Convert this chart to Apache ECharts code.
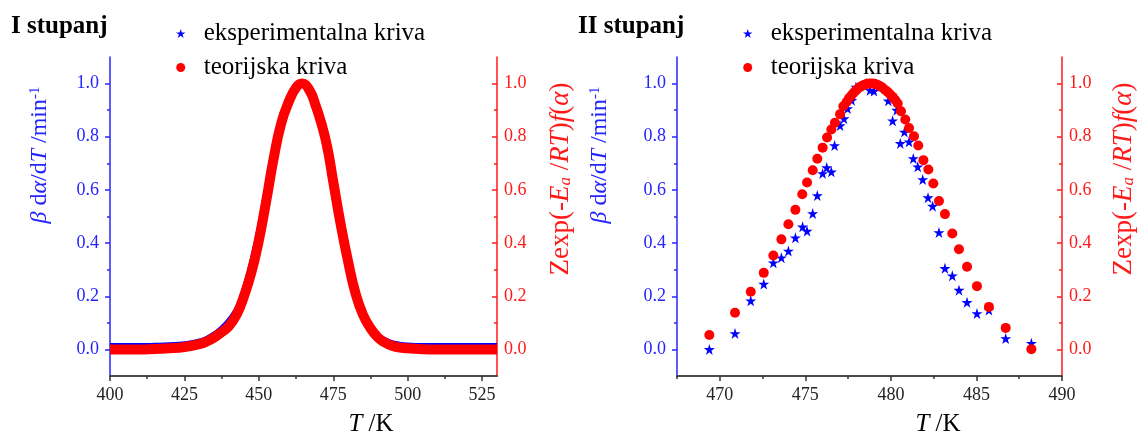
<!DOCTYPE html>
<html>
<head>
<meta charset="utf-8">
<script src="https://cdn.jsdelivr.net/npm/echarts@6/dist/echarts.min.js"></script>
<style>
html,body{margin:0;padding:0;background:#fff;}
#chart{width:1137px;height:436px;}
</style>
</head>
<body>
<div id="chart"></div>
<script>
// ---------- DATA ----------
// Panel I (stage I)
const t1Exp = [400,410,415,420,425,430,432.5,435,437.5,440,442.5,445,447.5,450,452.5,455,457.5,460,462,463.5,466,468,470,472,474,476,478.5,481,483.5,486,488.5,491,493.5,496,500,505,530];
const v1Exp = [0.02,0.02,0.021,0.023,0.027,0.037,0.048,0.065,0.088,0.12,0.165,0.245,0.35,0.48,0.63,0.78,0.885,0.955,0.99,1.0,0.99,0.95,0.9,0.82,0.72,0.6,0.44,0.31,0.2,0.125,0.08,0.052,0.037,0.028,0.022,0.02,0.02];
const t1Theo = [400,410,415,420,425,430,432.5,435,437.5,440,442.5,445,447.5,450,452.5,455,457.5,460,462.5,464.5,467,469,471,473,475,477.5,480,482.5,485,487.5,490,492.5,495,497.5,500,505,510,530];
const v1Theo = [0,0,0.002,0.004,0.009,0.02,0.03,0.045,0.065,0.088,0.13,0.2,0.29,0.41,0.56,0.72,0.85,0.93,0.985,1.0,0.975,0.92,0.85,0.76,0.63,0.47,0.33,0.21,0.13,0.08,0.045,0.025,0.013,0.007,0.004,0.001,0,0];

// Panel II (stage II)
const t2Exp = [469.39,470.89,471.81,472.57,473.13,473.6,474.01,474.42,474.84,475.1,475.43,475.7,476.01,476.25,476.52,476.71,477.03,477.26,477.47,477.71,477.96,478.2,478.59,478.78,479.01,479.46,479.85,480.1,480.34,480.55,480.79,481.06,481.31,481.57,481.86,482.17,482.44,482.81,483.16,483.59,483.98,484.45,485.03,485.73,486.71,488.21];
const v2Exp = [0,0.06,0.183,0.246,0.326,0.345,0.37,0.42,0.461,0.445,0.511,0.579,0.662,0.684,0.668,0.767,0.842,0.868,0.906,0.937,0.987,0.99,1.0,0.975,0.972,0.99,0.935,0.86,0.9,0.775,0.818,0.781,0.718,0.687,0.639,0.571,0.539,0.44,0.305,0.277,0.223,0.177,0.135,0.148,0.041,0.023];
const t2Theo = [469.39,470.89,471.81,472.57,473.13,473.6,474.01,474.42,474.82,475.1,475.43,475.7,476.01,476.27,476.52,476.73,477.03,477.22,477.41,477.55,477.7,477.85,478.0,478.15,478.3,478.45,478.6,478.75,478.9,479.05,479.2,479.35,479.5,479.65,479.8,479.95,480.1,480.25,480.4,480.59,480.84,481.06,481.35,481.6,481.9,482.19,482.48,482.81,483.16,483.59,483.98,484.45,485.03,485.73,486.71,488.21];
const v2Theo = [0.054,0.138,0.217,0.288,0.353,0.414,0.471,0.525,0.584,0.628,0.674,0.717,0.759,0.797,0.827,0.853,0.885,0.915,0.931,0.945,0.956,0.967,0.977,0.985,0.991,0.996,0.999,1.0,1.0,0.999,0.996,0.991,0.985,0.977,0.969,0.96,0.95,0.938,0.925,0.896,0.865,0.833,0.802,0.767,0.712,0.677,0.624,0.558,0.509,0.436,0.377,0.311,0.238,0.16,0.081,0.001];

// Ticks
const xTicks1 = [400,425,450,475,500,525];
const xMinor1 = [412.5,437.5,462.5,487.5,512.5];
const xRange1 = [400,530];
const xTicks2 = [470,475,480,485,490];
const xMinor2 = [467.5,472.5,477.5,482.5,487.5];
const xRange2 = [467.5,490];
const yTicks = [0,0.2,0.4,0.6,0.8,1.0];
const yMinor = [0.1,0.3,0.5,0.7,0.9];
const yRange = [-0.1,1.1];

const names = ['eksperimentalna kriva','teorijska kriva'];
const titles = ['I stupanj','II stupanj'];

// ---------- STYLE ----------
const SERIF = '"Liberation Serif","Times New Roman",serif';
const BLUE = '#0000ff', RED = '#ff0000';
const AXBLUE = '#2424ff', AXRED = '#ff1a1a', AXGRAY = '#4a4a4a';
const STAR = 'path://M50,0L61.2,34.5L97.6,34.5L68.2,55.9L79.4,90.5L50,69.1L20.6,90.5L31.8,55.9L2.4,34.5L38.8,34.5Z';

const zip = (a,b) => a.map((x,i)=>[x,b[i]]);

const grids = [
  {left:110, width:387, top:57, height:319},
  {left:677, width:385, top:57, height:319}
];
const xs = [{ticks:xTicks1, minor:xMinor1, range:xRange1},{ticks:xTicks2, minor:xMinor2, range:xRange2}];

const xAxis = [], yAxis = [];
xs.forEach((x,g)=>{
  xAxis.push({gridIndex:g, type:'value', position:'bottom', min:x.range[0], max:x.range[1],
    axisLine:{show:true, onZero:false, lineStyle:{color:AXGRAY, width:2}},
    axisTick:{show:true, customValues:x.ticks, length:5, lineStyle:{color:'#333', width:1.5}},
    axisLabel:{show:true, customValues:x.ticks, color:'#222', fontFamily:SERIF, fontSize:18, margin:10},
    splitLine:{show:false}});
  xAxis.push({gridIndex:g, type:'value', position:'bottom', min:x.range[0], max:x.range[1],
    axisLine:{show:false, onZero:false},
    axisTick:{show:true, customValues:x.minor, length:3, lineStyle:{color:'#333', width:1.5}},
    axisLabel:{show:false}, splitLine:{show:false}});
});
const yFmt = v => v.toFixed(1);
[0,1].forEach(g=>{
  yAxis.push({gridIndex:g, type:'value', position:'left', min:yRange[0], max:yRange[1],
    axisLine:{show:true, onZero:false, lineStyle:{color:AXBLUE, width:1.5}},
    axisTick:{show:true, customValues:yTicks, length:5, lineStyle:{color:AXBLUE, width:1.5}},
    axisLabel:{show:true, customValues:yTicks, formatter:yFmt, color:AXBLUE, fontFamily:SERIF, fontSize:18, margin:11},
    splitLine:{show:false}});
  yAxis.push({gridIndex:g, type:'value', position:'right', min:yRange[0], max:yRange[1],
    axisLine:{show:true, onZero:false, lineStyle:{color:AXRED, width:1.5}},
    axisTick:{show:true, inside:true, customValues:yTicks, length:5, lineStyle:{color:AXRED, width:1.5}},
    axisLabel:{show:true, customValues:yTicks, formatter:yFmt, color:AXRED, fontFamily:SERIF, fontSize:18, margin:7},
    splitLine:{show:false}});
  yAxis.push({gridIndex:g, type:'value', position:'left', min:yRange[0], max:yRange[1],
    axisLine:{show:false, onZero:false},
    axisTick:{show:true, customValues:yMinor, length:3, lineStyle:{color:AXBLUE, width:1.5}},
    axisLabel:{show:false}, splitLine:{show:false}});
  yAxis.push({gridIndex:g, type:'value', position:'right', min:yRange[0], max:yRange[1],
    axisLine:{show:false, onZero:false},
    axisTick:{show:true, inside:true, customValues:yMinor, length:3, lineStyle:{color:AXRED, width:1.5}},
    axisLabel:{show:false}, splitLine:{show:false}});
});

const series = [
  {name:names[0], type:'line', xAxisIndex:0, yAxisIndex:0, data:zip(t1Exp,v1Exp), smooth:0.5,
   showSymbol:false, symbol:STAR, color:BLUE, itemStyle:{color:BLUE}, lineStyle:{color:BLUE, width:2}, z:2, animation:false},
  {name:names[1], type:'line', xAxisIndex:0, yAxisIndex:1, data:zip(t1Theo,v1Theo), smooth:0.5,
   showSymbol:false, symbol:'circle', color:RED, itemStyle:{color:RED}, lineStyle:{color:RED, width:10, cap:'butt', join:'round'}, z:3, animation:false},
  {name:names[0], type:'scatter', xAxisIndex:2, yAxisIndex:4, data:zip(t2Exp,v2Exp), symbol:STAR, symbolSize:11,
   itemStyle:{color:BLUE, opacity:1}, z:2, animation:false},
  {name:names[1], type:'scatter', xAxisIndex:2, yAxisIndex:5, data:zip(t2Theo,v2Theo), symbol:'circle', symbolSize:10,
   itemStyle:{color:RED, opacity:1}, z:3, animation:false}
];

const legendData = [{name:names[0], icon:STAR, itemStyle:{color:BLUE}}, {name:names[1], icon:'circle', itemStyle:{color:RED}}];
const mkLegend = left => ({left, top:16, orient:'vertical', itemWidth:36, itemHeight:9, itemGap:9, selectedMode:false,
  textStyle:{color:'#000', fontFamily:SERIF, fontSize:25, padding:[0,0,0,0]}, data:legendData});

function rt(size, style, extra){ return Object.assign({fontSize:size, fontFamily:SERIF, fontStyle:style||'normal'}, extra||{}); }

function yNameBlue(cx, cy){
  const s = 24;
  return {type:'text', x:cx, y:cy, rotation:Math.PI/2, z:10, silent:true,
    style:{text:'{i|β} {n|d}{i|α}{n|/d}{i|T}{n| /min}{sup|-1}', fill:AXBLUE, fontSize:s, fontFamily:SERIF,
      align:'center', verticalAlign:'middle', textAlign:'center', textVerticalAlign:'middle',
      rich:{n:rt(s,'normal',{fill:AXBLUE}), i:rt(s,'italic',{fill:AXBLUE}), sup:rt(15,'normal',{fill:AXBLUE, verticalAlign:'top'})}}};
}
function yNameRed(cx, cy){
  const s = 27;
  return {type:'text', x:cx, y:cy, rotation:Math.PI/2, z:10, silent:true,
    style:{text:'{n|Zexp(-}{i|E}{sub|a}{n| /}{i|RT}{n|)}{i|f}{n|(}{i|α}{n|)}', fill:AXRED, fontSize:s, fontFamily:SERIF,
      align:'center', verticalAlign:'middle', textAlign:'center', textVerticalAlign:'middle',
      rich:{n:rt(s,'normal',{fill:AXRED}), i:rt(s,'italic',{fill:AXRED}), sub:rt(17,'italic',{fill:AXRED, verticalAlign:'bottom'})}}};
}
function xName(cx, cy){
  const s = 25;
  return {type:'text', x:cx, y:cy, z:10, silent:true,
    style:{text:'{i|T}{n| /K}', fill:'#000', fontSize:s, fontFamily:SERIF,
      align:'center', verticalAlign:'middle', textAlign:'center', textVerticalAlign:'middle',
      rich:{n:rt(s,'normal',{fill:'#000'}), i:rt(s,'italic',{fill:'#000'})}}};
}

const option = {
  animation:false,
  backgroundColor:'#fff',
  title:[
    {text:titles[0], left:11, top:14, padding:0, textStyle:{fontFamily:SERIF, fontSize:25, fontWeight:'bold', color:'#000'}},
    {text:titles[1], left:578, top:14, padding:0, textStyle:{fontFamily:SERIF, fontSize:25, fontWeight:'bold', color:'#000'}}
  ],
  legend:[mkLegend(171), mkLegend(738)],
  grid:grids,
  xAxis, yAxis, series,
  graphic:[
    yNameBlue(40,155), yNameRed(561,179), xName(371,424),
    yNameBlue(600,155), yNameRed(1124,179), xName(938,424)
  ]
};

const chart = echarts.init(document.getElementById('chart'), null, {renderer:'canvas'});
chart.setOption(option);
</script>
</body>
</html>
